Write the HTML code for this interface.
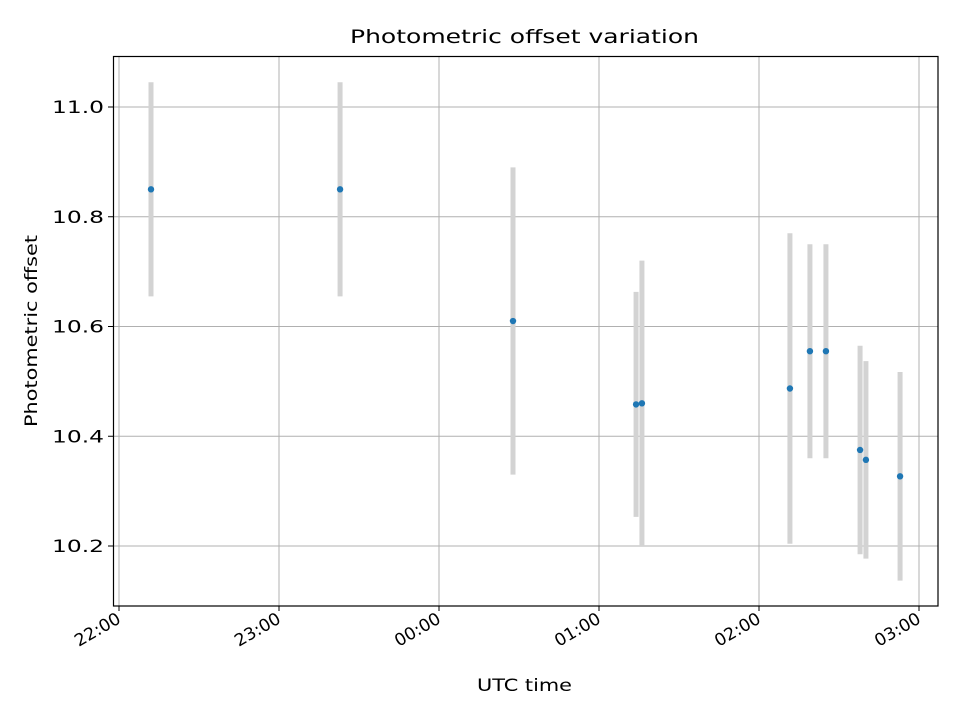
<!DOCTYPE html>
<html><head><meta charset="utf-8"><style>
body{margin:0;background:#fff}
svg text{font-family:"DejaVu Sans","Liberation Sans",sans-serif;fill:#000}
</style></head><body>
<svg width="960" height="720">
<rect width="960" height="720" fill="#fff"/>
<g id="grid"></g>
<g id="bars"></g>
<g id="pts"></g>
<rect x="113.5" y="56.5" width="824.5" height="549.5" fill="none" stroke="#000" stroke-width="1.2"/>
<g id="ticks"></g>
<text x="350" y="43" style="font-size:19px" textLength="349" lengthAdjust="spacingAndGlyphs">Photometric offset variation</text>
<text x="477" y="691" style="font-size:17px" textLength="95" lengthAdjust="spacingAndGlyphs">UTC time</text>
<text x="37" y="427" style="font-size:17px" textLength="192" lengthAdjust="spacingAndGlyphs" transform="rotate(-90 37 427)">Photometric offset</text>
</svg>
<script>
const minutes=[12,82.9,147.75,193.9,196.1,251.6,259.1,265.1,277.9,280.1,292.9];
const offsets=[10.85,10.85,10.61,10.458,10.46,10.487,10.555,10.555,10.375,10.357,10.327];
const errors=[0.195,0.195,0.28,0.205,0.26,0.283,0.195,0.195,0.19,0.18,0.19];
const xTickLabels=["22:00","23:00","00:00","01:00","02:00","03:00"];
const yTicks=[10.2,10.4,10.6,10.8,11.0];
const NS="http://www.w3.org/2000/svg";
function X(m){return 119+m*160/60;}
function Y(v){return 546-(v-10.2)*548.75;}
function mk(p,t,a){const e=document.createElementNS(NS,t);for(const k in a)e.setAttribute(k,a[k]);document.getElementById(p).appendChild(e);return e;}
xTickLabels.forEach((l,i)=>{const x=X(i*60);
 const g=mk('grid','line',{x1:x,x2:x,y1:56,y2:606,stroke:'#b0b0b0','stroke-width':1});
 
 
 mk('ticks','line',{x1:x,x2:x,y1:606,y2:611,stroke:'#000','stroke-width':1});
 const t=mk('ticks','text',{x:x+3,y:622,style:'font-size:17px',textLength:50,lengthAdjust:'spacingAndGlyphs','text-anchor':'end',transform:`rotate(-30 ${x+3} 622)`});
 t.textContent=l;
 
 
});
yTicks.forEach(v=>{const y=Y(v);
 const g=mk('grid','line',{x1:113,x2:938,y1:y,y2:y,stroke:'#b0b0b0','stroke-width':1});
 
 
 mk('ticks','line',{x1:108,x2:113,y1:y,y2:y,stroke:'#000','stroke-width':1});
 const t=mk('ticks','text',{x:52,y:y+6,style:'font-size:17px',textLength:52,lengthAdjust:'spacingAndGlyphs'});
 t.textContent=v.toFixed(1);
 
 
});
minutes.forEach((m,i)=>{const x=X(m);
 const b=mk('bars','line',{x1:x,x2:x,y1:Y(offsets[i]+errors[i]),y2:Y(offsets[i]-errors[i]),stroke:'#d3d3d3','stroke-width':5});
 
 
 const c=mk('pts','circle',{cx:x,cy:Y(offsets[i]),r:3.2,fill:'#1f77b4'});
 
 
});
</script>
</body></html>
